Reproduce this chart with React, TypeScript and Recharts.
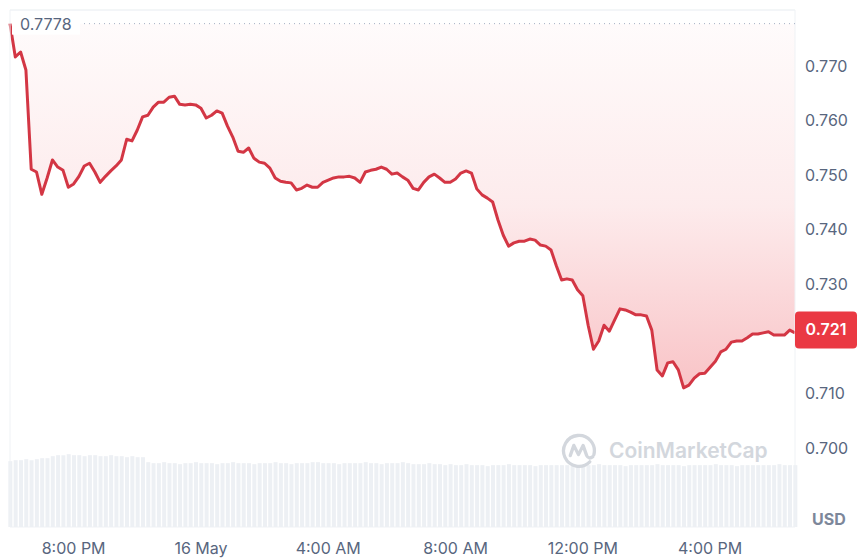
import React from 'react';
import {
  ComposedChart,
  Area,
  Bar,
  XAxis,
  YAxis,
  CartesianGrid,
  ReferenceLine
} from 'recharts';

// 15 May 18:00 -> 16 May 18:40, one point every 10 minutes
const START_HOUR = 18;
const STEP_HOURS = 1 / 6;

const price = [
  0.7778, 0.7717, 0.7726, 0.7693, 0.7511, 0.7506, 0.7465, 0.7495, 0.7528, 0.7515,
  0.7509, 0.7478, 0.7484, 0.7498, 0.7517, 0.7522, 0.7506, 0.7487, 0.7498, 0.7508,
  0.7517, 0.7528, 0.7566, 0.7563, 0.7583, 0.7607, 0.7610, 0.7625, 0.7634, 0.7634,
  0.7643, 0.7645, 0.7630, 0.7629, 0.7630, 0.7629, 0.7623, 0.7605, 0.7610, 0.7618,
  0.7614, 0.7590, 0.7570, 0.7544, 0.7542, 0.7550, 0.7531, 0.7524, 0.7522, 0.7513,
  0.7495, 0.7489, 0.7487, 0.7486, 0.7473, 0.7476, 0.7482, 0.7478, 0.7478, 0.7487,
  0.7491, 0.7495, 0.7497, 0.7497, 0.7498, 0.7495, 0.7487, 0.7506, 0.7509, 0.7511,
  0.7515, 0.7511, 0.7502, 0.7504, 0.7497, 0.7491, 0.7476, 0.7473, 0.7487, 0.7497,
  0.7502, 0.7495, 0.7487, 0.7487, 0.7493, 0.7504, 0.7508, 0.7504, 0.7475, 0.7464,
  0.7458, 0.7451, 0.7418, 0.7390, 0.7370, 0.7376, 0.7379, 0.7379, 0.7383, 0.7381,
  0.7372, 0.7370, 0.7363, 0.7334, 0.7308, 0.7310, 0.7308, 0.7290, 0.7279, 0.7225,
  0.7181, 0.7196, 0.7225, 0.7214, 0.7235, 0.7255, 0.7253, 0.7249, 0.7244, 0.7244,
  0.7242, 0.7216, 0.7143, 0.7132, 0.7156, 0.7158, 0.7143, 0.7110, 0.7115, 0.7128,
  0.7136, 0.7137, 0.7148, 0.7159, 0.7176, 0.7181, 0.7194, 0.7196, 0.7196, 0.7202,
  0.7209, 0.7209, 0.7211, 0.7213, 0.7207, 0.7207, 0.7207, 0.7216, 0.7211
];

// volume, arbitrary units
const volume = [
  66, 67, 67, 68, 67, 68, 69, 69,
  71, 72, 72, 73, 72, 72, 71, 72, 72, 71, 71, 72, 71, 71, 70, 71, 70, 70,
  65, 64, 64, 65, 64, 64, 63, 64, 64, 65, 64, 64, 64, 63, 64, 64, 65, 64, 64, 64,
  63, 64, 64, 64, 65, 64, 64, 63, 64, 64, 64, 65, 65, 64, 64, 64, 63, 64, 64, 64,
  64, 65, 64, 64, 63, 64, 64, 64, 65, 64, 63, 63, 63, 64, 63, 63, 62, 63,
  62, 62, 63, 62, 62, 62, 61, 62, 62, 62, 63, 62, 62, 62, 62, 61, 62, 62, 62, 62,
  62, 62, 61, 62, 62, 62, 62, 63, 62, 62, 62, 62, 61, 62, 62, 62, 62, 62, 63, 62,
  62, 62, 62, 61, 62, 62, 62, 62, 62, 63, 62, 62, 62, 61, 62, 62, 62, 62, 62, 62,
  62, 63, 62, 62, 62
];

const tickHours = [20, 24, 28, 32, 36, 40];
const tickLabels = ['8:00 PM', '16 May', '4:00 AM', '8:00 AM', '12:00 PM', '4:00 PM'];
const priceTicks = [0.7, 0.71, 0.72, 0.73, 0.74, 0.75, 0.76, 0.77];

const openPrice = 0.7778;
const lastPrice = 0.721;

const RED = '#ea3943';
const LINE = '#d33644';
const GRID = '#eff2f5';
const TEXT = '#58667e';

const data = price.map((p, i) => ({
  t: START_HOUR + i * STEP_HOURS,
  price: p,
  volume: volume[i]
}));

const tStart = data[0].t;
const tEnd = data[data.length - 1].t;

// the tick under the current-price badge is hidden, its grid line stays
function PriceTick({ x, y, payload }: any) {
  if (Math.abs(payload.value - lastPrice) < 0.004) return <g />;
  return (
    <text x={x} y={y} dy="0.35em" fontSize={16} fill={TEXT}>
      {payload.value.toFixed(3)}
    </text>
  );
}

function OpenLabel({ viewBox }: any) {
  return (
    <g>
      <rect x={viewBox.x + 2} y={viewBox.y - 11} width={68} height={22} fill="#fff" />
      <text x={viewBox.x + 10} y={viewBox.y + 1} dy="0.35em" fontSize={16} fill={TEXT}>
        {openPrice}
      </text>
    </g>
  );
}

function LastLabel({ viewBox }: any) {
  const x = viewBox.x + viewBox.width;
  return (
    <g>
      <rect x={x} y={viewBox.y - 22} width={62} height={37} rx={4} fill={RED} />
      <text
        x={x + 31}
        y={viewBox.y - 3.5}
        dy="0.35em"
        textAnchor="middle"
        fontSize={16}
        fontWeight={600}
        fill="#fff"
      >
        {lastPrice.toFixed(3)}
      </text>
    </g>
  );
}

function Watermark() {
  return (
    <div
      style={{
        position: 'absolute',
        left: 561,
        top: 432,
        display: 'flex',
        alignItems: 'center',
        gap: 11,
        color: '#d3d7dd',
        fontSize: 21,
        fontWeight: 600,
        pointerEvents: 'none'
      }}
    >
      <svg width={37} height={37} viewBox="0 0 36 36">
        <path
          d="M 28 29 A 15 15 0 1 1 32 22"
          fill="none"
          stroke="#d3d7dd"
          strokeWidth={3.2}
          strokeLinecap="round"
        />
        <path
          d="M 9 23 L 12.5 13 L 17 22 L 21.5 13 L 25 23 Q 27 27 31 24"
          fill="none"
          stroke="#d3d7dd"
          strokeWidth={3.2}
          strokeLinecap="round"
          strokeLinejoin="round"
        />
      </svg>
      <span>CoinMarketCap</span>
    </div>
  );
}

export default function App() {
  return (
    <div
      style={{
        position: 'relative',
        width: 859,
        height: 559,
        background: '#fff',
        fontFamily: 'Inter, "Noto Sans", sans-serif'
      }}
    >
      <style>{'body{margin:0}'}</style>
      <ComposedChart
        width={859}
        height={559}
        data={data}
        margin={{ top: 10, right: 0, bottom: 0, left: 10 }}
      >
        <defs>
          <linearGradient id="fallFill" x1="0" y1="0" x2="0" y2="1">
            <stop offset="0%" stopColor={RED} stopOpacity={0.02} />
            <stop offset="50%" stopColor={RED} stopOpacity={0.1} />
            <stop offset="100%" stopColor={RED} stopOpacity={0.3} />
          </linearGradient>
        </defs>
        <CartesianGrid vertical={false} stroke={GRID} />
        <XAxis
          dataKey="t"
          type="number"
          domain={[tStart, tEnd]}
          ticks={tickHours}
          tickFormatter={(h: number) => tickLabels[tickHours.indexOf(h)]}
          axisLine={false}
          tickLine={false}
          tickSize={0}
          tickMargin={16}
          height={32}
          tick={{ fill: TEXT, fontSize: 16 }}
        />
        <YAxis
          yAxisId="price"
          orientation="right"
          domain={[0.6855, 0.7803]}
          ticks={priceTicks}
          axisLine={false}
          tickLine={false}
          tickSize={0}
          tickMargin={10}
          width={64}
          tick={<PriceTick />}
        />
        <YAxis
          yAxisId="vol"
          hide
          domain={[0, (max: number) => max * 7.1]}
        />
        <Bar
          yAxisId="vol"
          dataKey="volume"
          fill="#edf0f4"
          barSize={4}
          isAnimationActive={false}
        />
        <ReferenceLine yAxisId="price" y={0.7803} stroke={GRID} />
        <ReferenceLine yAxisId="price" x={tStart} stroke={GRID} />
        <ReferenceLine yAxisId="price" x={tEnd} stroke={GRID} />
        <ReferenceLine
          yAxisId="price"
          y={openPrice}
          stroke="#a6b0c3"
          strokeDasharray="1 4"
          label={<OpenLabel />}
        />
        <Area
          yAxisId="price"
          type="linear"
          dataKey="price"
          baseValue={openPrice}
          stroke={LINE}
          strokeWidth={3}
          strokeLinejoin="round"
          fill="url(#fallFill)"
          fillOpacity={1}
          dot={false}
          activeDot={false}
          isAnimationActive={false}
        />
        <ReferenceLine
          yAxisId="price"
          y={lastPrice}
          stroke="none"
          label={<LastLabel />}
        />
      </ComposedChart>
      <Watermark />
      <div
        style={{
          position: 'absolute',
          left: 812,
          top: 509,
          fontSize: 16,
          fontWeight: 700,
          color: '#7d879a'
        }}
      >
        USD
      </div>
    </div>
  );
}
